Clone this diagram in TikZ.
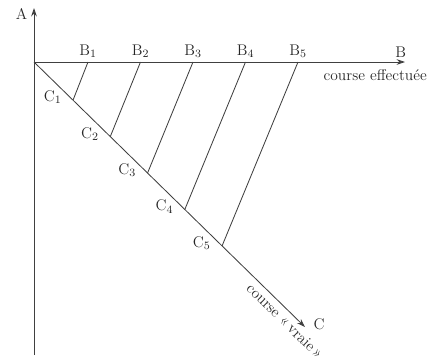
\documentclass[tikz,border=0pt]{standalone}
\usepackage{fontspec}
\usetikzlibrary{positioning,arrows.meta,calc}

\begin{document}
\begin{tikzpicture}[
    x=0.025cm, y=-0.025cm,
    axis/.style={draw=black!75, line width=0.6pt, -{Stealth[length=6pt,width=4pt]}},
    leg/.style={draw=black!75, line width=0.6pt},
    lbl/.style={font=\fontsize{11}{13}\selectfont, text=black!85, inner sep=1pt}
  ]
  \useasboundingbox (0,0) rectangle (441,362);

  % Axes
  \coordinate (O) at (34,62);
  \coordinate (Abot) at (34,355);
  \coordinate (A) at (34,8);
  \coordinate (B) at (405,62);
  \coordinate (C) at (305,327);
  \draw[axis] (Abot) -- (A);
  \draw[axis] (O) -- (B);
  \draw[axis] (O) -- (C);

  \node[lbl, anchor=east] (alab) at (29,14) {A};
  \node[lbl, above=2pt of B, xshift=-3pt] (blab) {B};
  \node[lbl, right=5pt of C, yshift=2pt] (clab) {C};
  \node[lbl, anchor=west] (eff) at (322,75) {\addfontfeatures{LetterSpace=8}course effectuée};
  \node[lbl, rotate=-44.4, inner sep=0pt] (vraie) at (285,321) {\addfontfeatures{LetterSpace=4}course «\,vraie\,»};

  % Points and joining lines
  \foreach \k in {1,...,5} {
    \coordinate (b\k) at ({88+52.5*(\k-1)},62);
    \coordinate (c\k) at ($(O)!{0.144+0.1375*(\k-1)}!(C)$);
    \draw[leg] (c\k) -- (b\k);
    \node[lbl, above=2pt of b\k] (blab\k) {B$_{\k}$};
    \node[lbl, left=7pt of c\k, yshift=2pt] (clab\k) {C$_{\k}$};
  }
\end{tikzpicture}
\end{document}
